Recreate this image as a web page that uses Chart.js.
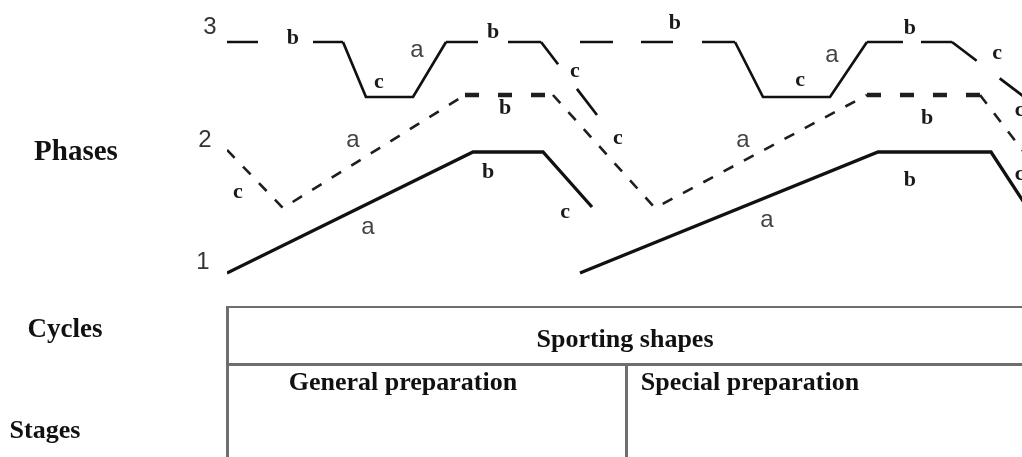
<!DOCTYPE html>
<html>
<head>
<meta charset="utf-8">
<title>Phases, cycles and stages</title>
<script src="https://cdn.jsdelivr.net/npm/chart.js@4.4.1/dist/chart.umd.min.js"></script>
<style>
  html, body { margin: 0; padding: 0; background: #fff; }
  #wrap { position: relative; width: 1022px; height: 457px; overflow: hidden; }
  #box { position: absolute; left: 0; top: 0; width: 1022px; height: 457px; }
  .txt {
    position: absolute; white-space: nowrap; color: #111;
    font-family: "Liberation Serif", "Times New Roman", serif;
    font-weight: bold; font-size: 26px; line-height: 1;
    transform: translate(-50%, -50%);
  }
  .rule { position: absolute; background: #6e6e6e; }
</style>
</head>
<body>
<div id="wrap">
  <div id="box"><canvas id="chart"></canvas></div>

  <div class="txt" style="left:76px; top:150px; font-size:29px;">Phases</div>
  <div class="txt" style="left:65px; top:328px; font-size:27px;">Cycles</div>
  <div class="txt" style="left:45px; top:430px;">Stages</div>

  <div class="rule" style="left:226px; top:306px; width:800px; height:2px;"></div>
  <div class="rule" style="left:226px; top:306px; width:3px; height:160px;"></div>
  <div class="rule" style="left:226px; top:363px; width:800px; height:3px;"></div>
  <div class="rule" style="left:625px; top:364px; width:3px; height:100px;"></div>

  <div class="txt" style="left:625px; top:339px;">Sporting shapes</div>
  <div class="txt" style="left:403px; top:382px;">General preparation</div>
  <div class="txt" style="left:750px; top:382px;">Special preparation</div>
</div>

<script>
// time runs left to right (0..100), level runs bottom to top (0..30)
// null splits a phase line into its two cycles
const phase1X = [0, 30.94, 39.75, 45.91, null, 44.4, 81.89, 96.1, 102.26];
const phase1Y = [2.7, 14.8, 14.8, 9.3, null, 2.7, 14.8, 14.8, 7.3];

const phase2X = [0, 7.04, 29.94, 41.0, 53.84, 80.5, 94.72, 102.26];
const phase2Y = [15.0, 9.2, 20.5, 20.5, 9.2, 20.5, 20.5, 12.7];

const phase3X = [0, 14.59, 17.48, 23.4, 27.55, 39.5, 46.54, null, 44.4, 63.9, 67.42, 75.85, 80.5, 91.19, 102.26];
const phase3Y = [25.8, 25.8, 20.3, 20.3, 25.8, 25.8, 18.5, null, 25.8, 25.8, 20.3, 20.3, 25.8, 25.8, 19.1];

// level numbers at the start of each phase
const levelNames = ['1', '2', '3'];
const levelX = [-3.02, -2.77, -2.14];
const levelY = [3.8, 16.0, 27.3];

// a / b / c markers along the lines
const phase1Marks = ['a', 'b', 'c', 'a', 'b', 'c'];
const phase1MarkX = [17.74, 32.83, 42.52, 67.92, 85.91, 99.7];
const phase1MarkY = [7.3, 12.8, 8.8, 8.0, 12.0, 12.6];

const phase2Marks = ['c', 'a', 'b', 'c', 'a', 'b', 'c'];
const phase2MarkX = [1.38, 15.85, 34.97, 49.18, 64.9, 88.05, 99.7];
const phase2MarkY = [10.8, 16.0, 19.2, 16.2, 16.0, 18.2, 19.0];

const phase3Marks = ['b', 'c', 'a', 'b', 'c', 'b', 'c', 'a', 'b', 'c'];
const phase3MarkX = [8.30, 19.12, 23.9, 33.46, 43.77, 56.35, 72.08, 76.1, 85.91, 96.86];
const phase3MarkY = [26.2, 21.8, 25.0, 26.8, 22.9, 27.7, 22.0, 24.5, 27.2, 24.7];

function pts(xs, ys) {
  return xs.map((x, i) => ({ x: x, y: ys[i] }));
}

// broken pieces of phase 3 (gaps hold the letters)
const phase3Dash = {
  0: [31, 55, 30, 200],
  4: [32, 30, 40, 200],
  5: [28, 31, 80, 200],
  8: [33, 28, 32, 29, 40, 200],
  12: [36, 18, 40, 200],
  13: [31, 29, 200, 200]
};
// phase 2: the flat b parts are heavier
const phase2Flat = [2, 5];

const markFont = {
  a: '24px "Liberation Sans", Arial, sans-serif',
  b: 'bold 22px "Liberation Serif", "Times New Roman", serif',
  c: 'bold 22px "Liberation Serif", "Times New Roman", serif'
};

const textLabels = {
  id: 'textLabels',
  afterDatasetsDraw(chart) {
    const { ctx, scales: { x, y } } = chart;
    ctx.save();
    ctx.textAlign = 'center';
    ctx.textBaseline = 'middle';

    ctx.font = '24px "Liberation Sans", Arial, sans-serif';
    ctx.fillStyle = '#333';
    levelNames.forEach((t, i) => {
      ctx.fillText(t, x.getPixelForValue(levelX[i]), y.getPixelForValue(levelY[i]));
    });

    const groups = [
      [phase1Marks, phase1MarkX, phase1MarkY],
      [phase2Marks, phase2MarkX, phase2MarkY],
      [phase3Marks, phase3MarkX, phase3MarkY]
    ];
    groups.forEach(([marks, xs, ys]) => {
      marks.forEach((t, i) => {
        ctx.font = markFont[t];
        ctx.fillStyle = t === 'a' ? '#444' : '#1a1a1a';
        ctx.fillText(t, x.getPixelForValue(xs[i]), y.getPixelForValue(ys[i]));
      });
    });
    ctx.restore();
  }
};

new Chart(document.getElementById('chart'), {
  type: 'line',
  data: {
    datasets: [
      {
        label: 'Phase 1',
        data: pts(phase1X, phase1Y),
        borderColor: '#111',
        borderWidth: 3.3,
      },
      {
        label: 'Phase 2',
        data: pts(phase2X, phase2Y),
        borderColor: '#1e1e1e',
        borderWidth: 2.6,
        borderDash: [11, 12],
        segment: {
          borderWidth: ctx => phase2Flat.includes(ctx.p0DataIndex) ? 4.5 : 2.6,
          borderDash: ctx => phase2Flat.includes(ctx.p0DataIndex) ? [14, 19] : [11, 12],
        },
      },
      {
        label: 'Phase 3',
        data: pts(phase3X, phase3Y),
        borderColor: '#111',
        borderWidth: 2.7,
        segment: {
          borderDash: ctx => phase3Dash[ctx.p0DataIndex] || [],
        },
      },
    ],
  },
  options: {
    responsive: true,
    maintainAspectRatio: false,
    animation: false,
    events: [],
    spanGaps: false,
    layout: { padding: { left: 227, right: 0, top: 0, bottom: 157 } },
    elements: {
      point: { radius: 0 },
      line: { tension: 0, borderJoinStyle: 'miter', borderCapStyle: 'butt', fill: false },
    },
    scales: {
      x: { type: 'linear', min: 0, max: 100, display: false },
      y: { type: 'linear', min: 0, max: 30, display: false },
    },
    plugins: {
      legend: { display: false },
      tooltip: { enabled: false },
    },
  },
  plugins: [textLabels],
});
</script>
</body>
</html>
